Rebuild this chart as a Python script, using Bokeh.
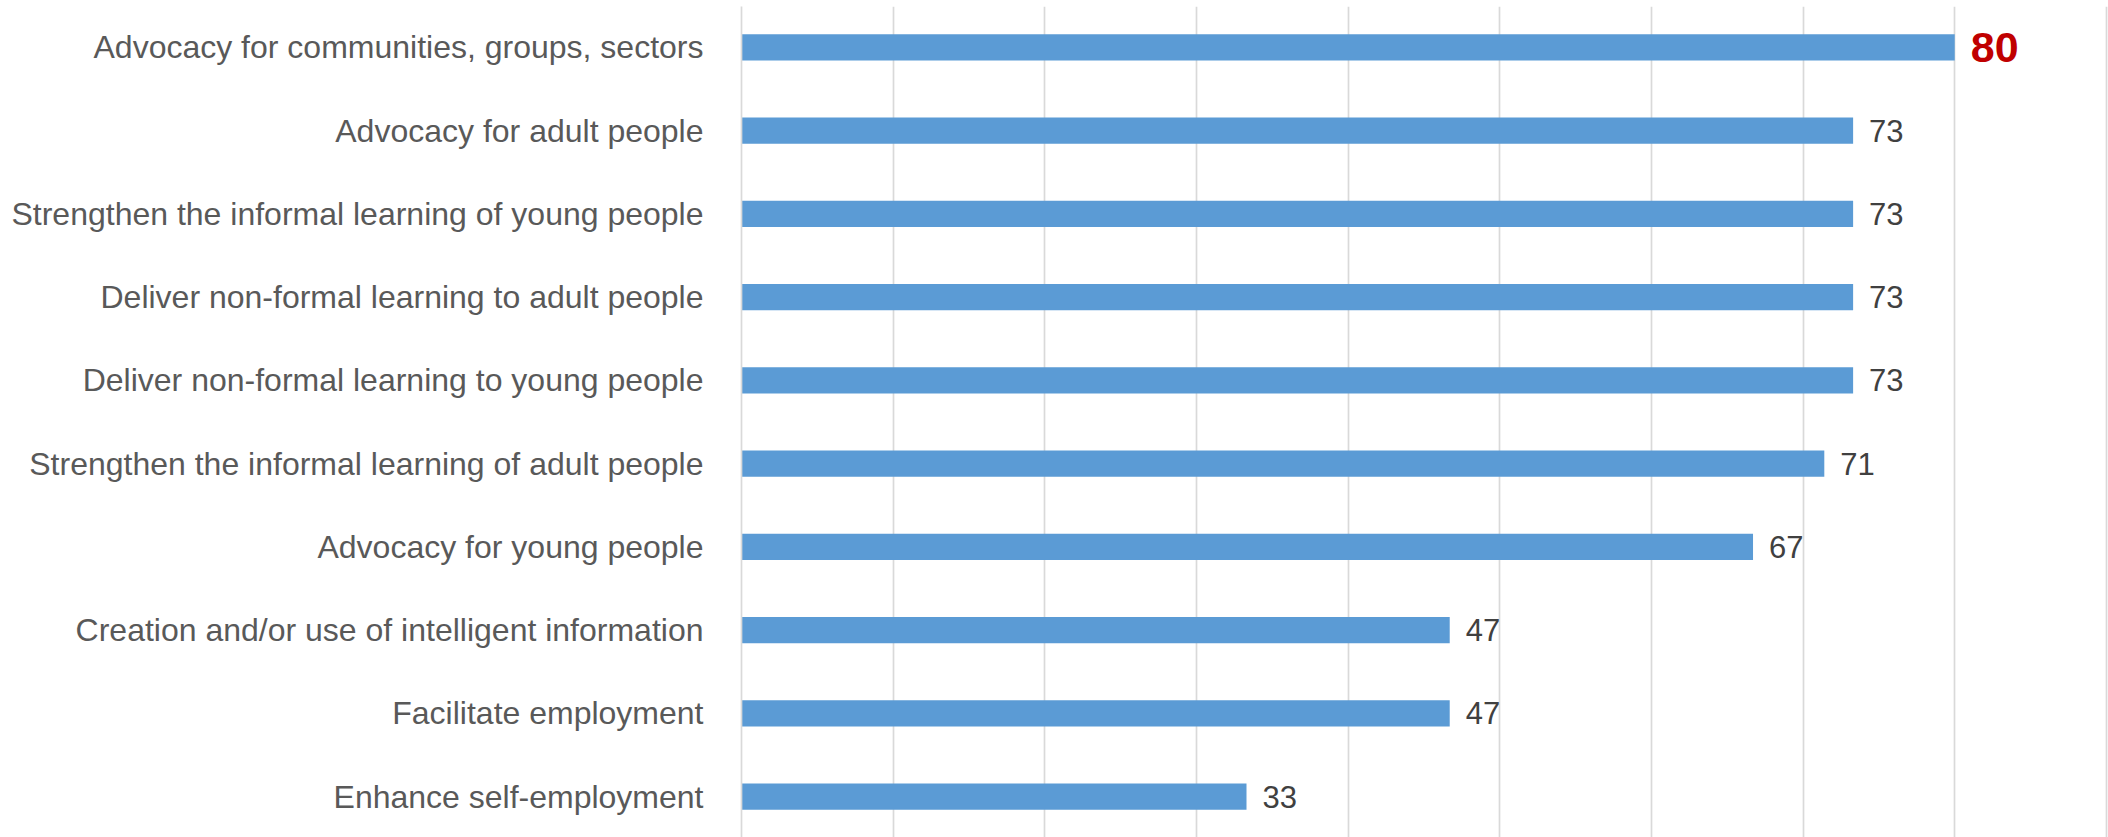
from bokeh.plotting import figure
from bokeh.models import ColumnDataSource, FactorRange, Range1d, FixedTicker
from bokeh.core.properties import value
from bokeh.embed import file_html
from bokeh.resources import INLINE

# Categories, top to bottom as shown
categories = [
    "Advocacy for communities, groups, sectors",
    "Advocacy for adult people",
    "Strengthen the informal learning of young people",
    "Deliver non-formal learning to adult people",
    "Deliver non-formal learning to young people",
    "Strengthen the informal learning of adult people",
    "Advocacy for young people",
    "Creation and/or use of intelligent information",
    "Facilitate employment",
    "Enhance self-employment",
]
values = [80.0, 73.3, 73.3, 73.3, 73.3, 71.4, 66.7, 46.7, 46.7, 33.3]
x_ticks = [0, 10, 20, 30, 40, 50, 60, 70, 80, 90]

FONT = "Liberation Sans"

labels = [f"{round(v)}" for v in values]
src = ColumnDataSource(dict(cat=categories, val=values, lab=labels))
top_src = ColumnDataSource(dict(cat=categories[:1], val=values[:1], lab=labels[:1]))
rest_src = ColumnDataSource(dict(cat=categories[1:], val=values[1:], lab=labels[1:]))

p = figure(
    width=2108, height=837,
    y_range=FactorRange(factors=list(reversed(categories)), range_padding=-0.0017),
    x_range=Range1d(0, 90.14),
    output_backend="svg", toolbar_location=None,
    min_border_left=741, min_border_right=0, min_border_top=6, min_border_bottom=0,
)
p.outline_line_color = None
p.background_fill_color = "white"
p.border_fill_color = "white"

p.hbar(y="cat", right="val", left=0, height=0.316, source=src,
       fill_color="#5B9BD5", line_color=None)

p.text(x="val", y="cat", text="lab", source=rest_src, x_offset=16,
       text_baseline="middle", text_align="left",
       text_font=value(FONT), text_font_size="31px", text_color="#404040")
p.text(x="val", y="cat", text="lab", source=top_src, x_offset=16,
       text_baseline="middle", text_align="left",
       text_font=value(FONT), text_font_size="43px", text_font_style="bold",
       text_color="#C00000")

p.xaxis.visible = False
p.xgrid.ticker = FixedTicker(ticks=x_ticks)
p.xgrid.grid_line_color = "#D9D9D9"
p.xgrid.grid_line_width = 1.7
p.ygrid.grid_line_color = None

ax = p.yaxis[0]
ax.axis_line_color = "#D9D9D9"
ax.axis_line_width = 1.7
ax.major_tick_line_color = None
ax.minor_tick_line_color = None
ax.major_tick_out = 0
ax.major_tick_in = 0
ax.major_label_standoff = 38
ax.major_label_text_font = FONT
ax.major_label_text_font_size = "32px"
ax.major_label_text_color = "#595959"

open("out.html", "w").write(file_html(p, INLINE))
